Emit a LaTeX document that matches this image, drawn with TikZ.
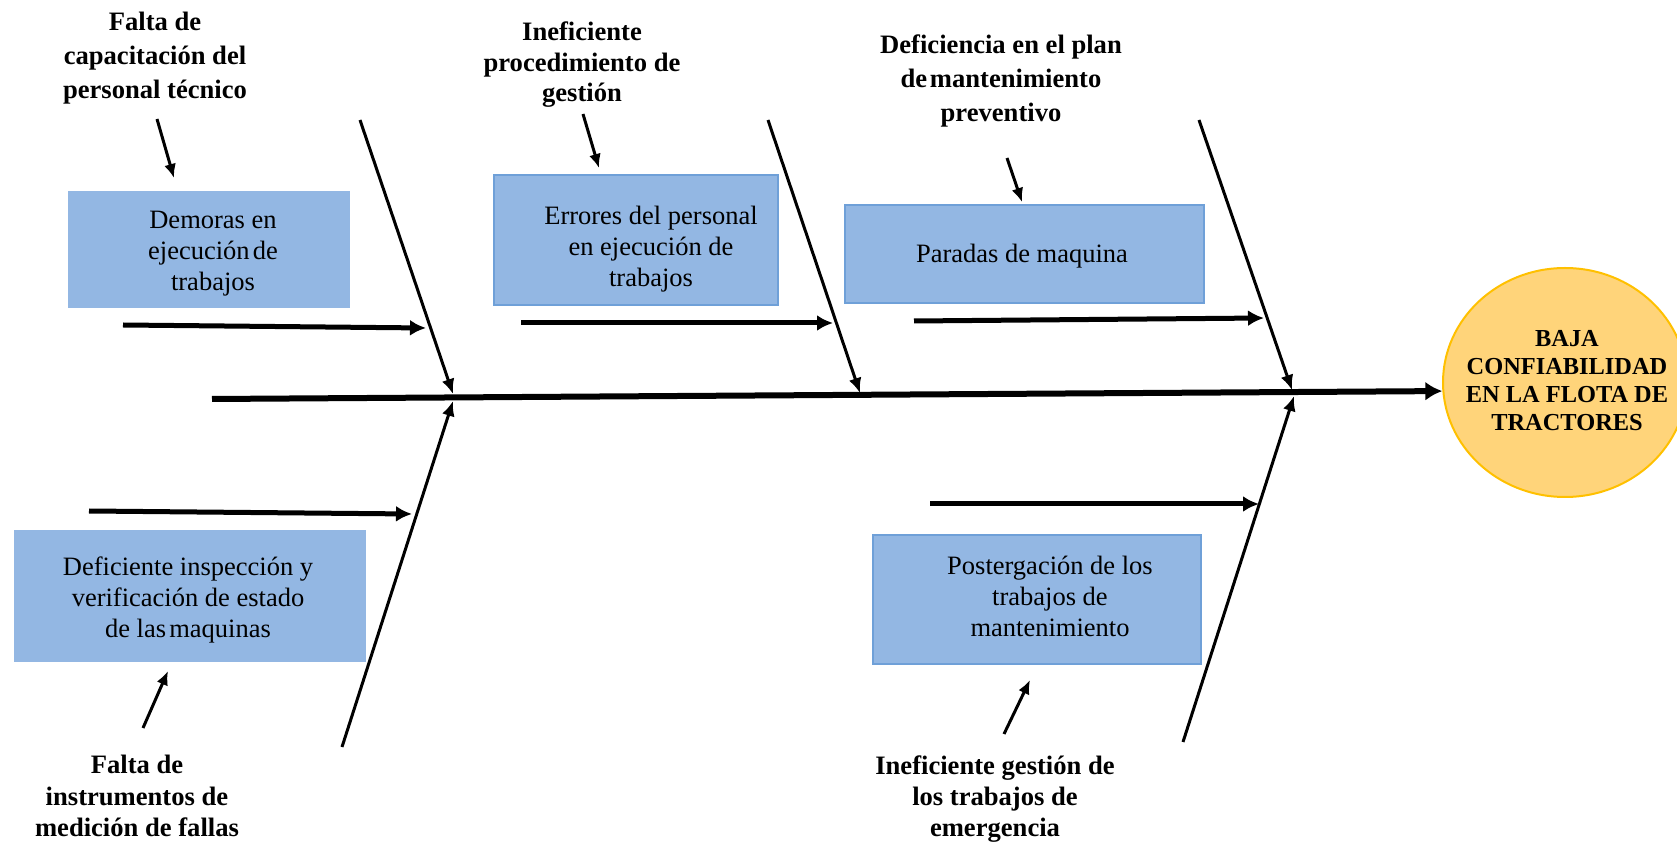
\documentclass[tikz,border=0pt]{standalone}
\usepackage{fontspec}
\setmainfont{Liberation Serif}
\usetikzlibrary{arrows.meta,shapes.geometric}
\definecolor{boxblue}{HTML}{93B7E3}
\definecolor{boxedge}{HTML}{6FA0D8}
\definecolor{ellfill}{HTML}{FFD47A}
\definecolor{elledge}{HTML}{FFC000}
\begin{document}
\begin{tikzpicture}[x=0.5pt,y=-0.5pt,
  cause/.style={fill=boxblue, inner sep=0pt},
  edged/.style={draw=boxedge, line width=0.7pt},
  boxtext/.style={align=center, inner sep=0pt, font=\fontsize{13.25}{15.5}\selectfont},
  cat/.style={align=center, inner sep=0pt, font=\fontsize{13.3}{17.1}\selectfont\bfseries},
  catb/.style={align=center, inner sep=0pt, font=\fontsize{13.3}{15.6}\selectfont\bfseries},
  bone/.style={line width=1.5pt, -{Latex[length=7.5pt,width=6.5pt]}},
  feed/.style={line width=2.5pt, -{Latex[length=8pt,width=8pt]}},
  tick/.style={line width=1.5pt, -{Latex[length=7pt,width=6pt]}},
  spine/.style={line width=3pt, -{Latex[length=8.5pt,width=9.5pt]}}]
\useasboundingbox (0,0) rectangle (1677,844);

% effect
\node[ellipse, fill=ellfill, draw=elledge, line width=1pt, minimum width=122pt, minimum height=114.5pt, inner sep=0pt] (goal) at (1565,382.5) {};
\node[align=center, inner sep=0pt, font=\fontsize{12.2}{13.9}\selectfont\bfseries] (goaltext) at (1567,380.5)
  {BAJA\\CONFIABILIDAD\\EN LA FLOTA DE\\TRACTORES};

% cause boxes
\node[cause, minimum width=141pt, minimum height=58.5pt] (b1) at (209,249.5) {};
\node[cause, edged, minimum width=142pt, minimum height=65pt] (b2) at (636,240) {};
\node[cause, edged, minimum width=179.5pt, minimum height=49pt] (b3) at (1024.5,254) {};
\node[cause, minimum width=176pt, minimum height=66pt] (b4) at (190,596) {};
\node[cause, edged, minimum width=164pt, minimum height=64.5pt] (b5) at (1037,599.5) {};

\node[boxtext] (t1) at (213,254) {Demoras en\\ejecución\hspace{0.12em}de\\trabajos};
\node[boxtext] (t2) at (651,249.5) {Errores del personal\\en ejecución de\\trabajos};
\node[boxtext] (t3) at (1022,256) {Paradas de maquina};
\node[boxtext] (t4) at (188,600) {Deficiente inspección y\\verificación de estado\\de las\hspace{0.12em}maquinas};
\node[boxtext] (t5) at (1050,596) {Postergación de los\\trabajos de\\mantenimiento};

% category labels
\node[cat] (l1) at (155,58) {Falta de\\capacitación del\\personal técnico};
\node[catb, font=\fontsize{13.3}{15.25}\selectfont\bfseries] (l2) at (582,65) {Ineficiente\\procedimiento de\\gestión};
\node[cat] (l3) at (1001,81) {Deficiencia en el plan\\de\hspace{0.1em}mantenimiento\\preventivo};
\node[catb] (l4) at (137,796) {Falta de\\instrumentos de\\medición de fallas};
\node[catb] (l5) at (995,799) {Ineficiente gestión de\\los trabajos de\\emergencia};

% coordinates
\coordinate (sp) at (212,399);
\coordinate (u1) at (360,120);  \coordinate (j1u) at (453,394);
\coordinate (u2) at (768,120);  \coordinate (j2u) at (860,393);
\coordinate (u3) at (1199,120); \coordinate (j3u) at (1292,390);
\coordinate (d1) at (342,747);  \coordinate (j1d) at (453,401);
\coordinate (d2) at (1183,742); \coordinate (j3d) at (1294,396);

\coordinate (h1s) at (123,325); \coordinate (h1e) at (426,328);
\coordinate (h2s) at (521,323); \coordinate (h2e) at (833,323);
\coordinate (h3s) at (914,321); \coordinate (h3e) at (1264,318);
\coordinate (h4s) at (89,511);  \coordinate (h4e) at (412,514);
\coordinate (h5s) at (930,504); \coordinate (h5e) at (1259,504);

\coordinate (a1s) at (157,119);  \coordinate (a1e) at (174,178);
\coordinate (a2s) at (583,114);  \coordinate (a2e) at (599,168);
\coordinate (a3s) at (1007,158); \coordinate (a3e) at (1022,202);
\coordinate (a4s) at (143,728);  \coordinate (a4e) at (168,671);
\coordinate (a5s) at (1004,734); \coordinate (a5e) at (1030,680);

% spine
\draw[spine] (sp) -- (goal.184);

% bones
\draw[bone] (u1) -- (j1u);
\draw[bone] (u2) -- (j2u);
\draw[bone] (u3) -- (j3u);
\draw[bone] (d1) -- (j1d);
\draw[bone] (d2) -- (j3d);

% feeders
\draw[feed] (h1s) -- (h1e);
\draw[feed] (h2s) -- (h2e);
\draw[feed] (h3s) -- (h3e);
\draw[feed] (h4s) -- (h4e);
\draw[feed] (h5s) -- (h5e);

% small arrows
\draw[tick] (a1s) -- (a1e);
\draw[tick] (a2s) -- (a2e);
\draw[tick] (a3s) -- (a3e);
\draw[tick] (a4s) -- (a4e);
\draw[tick] (a5s) -- (a5e);
\end{tikzpicture}
\end{document}
